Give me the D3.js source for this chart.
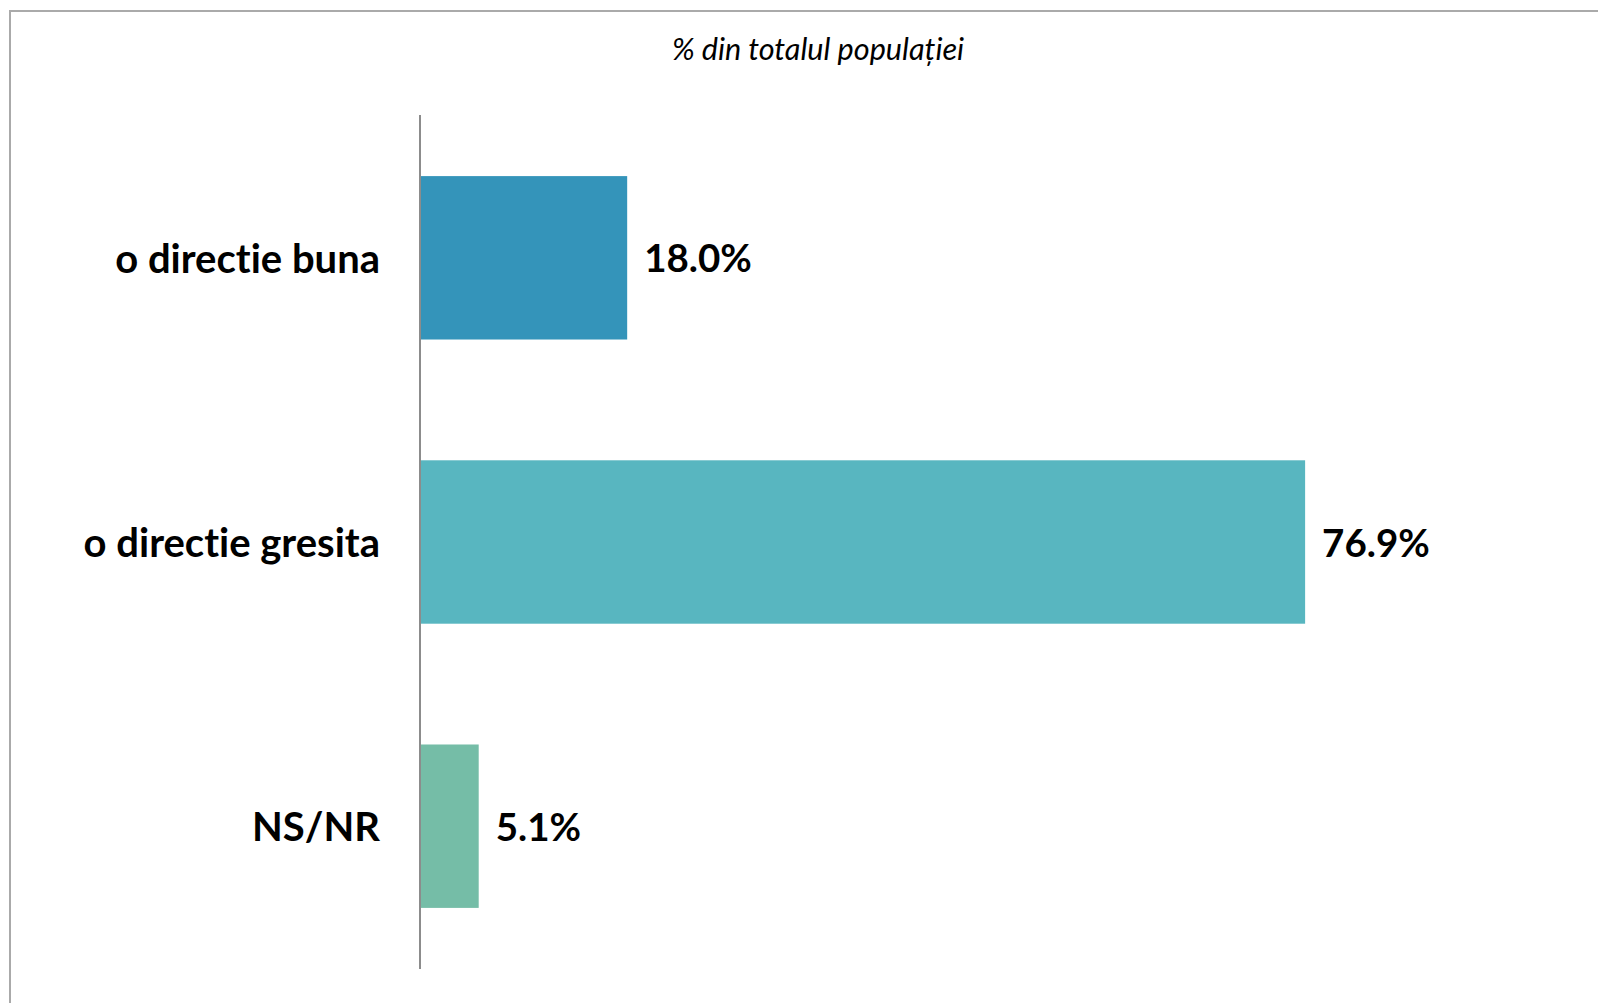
<!DOCTYPE html>
<html>
<head>
<meta charset="utf-8">
<script src="https://cdn.jsdelivr.net/npm/d3@7"></script>
<style>
  html, body { margin: 0; padding: 0; background: #fff; overflow: hidden; }
  svg { display: block; }
  text { font-variant-ligatures: none; font-feature-settings: "liga" 0, "clig" 0; }
</style>
</head>
<body>
<svg id="chart" width="1598" height="1003"></svg>
<script>
const categories = ["o directie buna", "o directie gresita", "NS/NR"];
const values = [18.0, 76.9, 5.1];
const valueLabels = ["18.0%", "76.9%", "5.1%"];
const colors = ["#3494BA", "#58B6C0", "#75BDA7"];
const title = "% din totalul populației";

const svg = d3.select("#chart");
const W = 1598, H = 1003;

// outer frame (only top and left edges visible)
svg.append("rect")
  .attr("x", 10).attr("y", 11)
  .attr("width", W + 20).attr("height", H + 20)
  .attr("fill", "#fff")
  .attr("stroke", "#aaaaaa").attr("stroke-width", 2);

const plot = { left: 420, top: 115, bottom: 969 };

const x = d3.scaleLinear().domain([0, 100]).range([plot.left, plot.left + 1151]);
const y = d3.scaleBand().domain(categories).range([plot.top, plot.bottom]).paddingInner(0.425).paddingOuter(0.215);

const font = "Lato, 'Open Sans', sans-serif";

svg.append("text")
  .attr("x", 818).attr("y", 60)
  .attr("text-anchor", "middle")
  .attr("font-family", font)
  .attr("font-style", "italic")
  .attr("font-size", 30.6)
  .attr("fill", "#000")
  .text(title);

const data = categories.map((c, i) => ({ c, v: values[i], lab: valueLabels[i], col: colors[i] }));

svg.selectAll("rect.bar").data(data).enter().append("rect")
  .attr("class", "bar")
  .attr("x", x(0))
  .attr("y", d => y(d.c))
  .attr("width", d => x(d.v) - x(0))
  .attr("height", y.bandwidth())
  .attr("fill", d => d.col);

// y axis
const yAxis = d3.axisLeft(y).tickSize(0).tickPadding(40);
const gy = svg.append("g").attr("transform", `translate(${x(0)},0)`).call(yAxis);
gy.select(".domain").attr("stroke", "#8c8c8c").attr("stroke-width", 2)
  .attr("d", `M0,${plot.top}V${plot.bottom}`);
gy.selectAll(".tick text")
  .attr("font-family", font)
  .attr("font-weight", "bold")
  .attr("font-size", 40)
  .attr("fill", "#000")
  .attr("dy", "0.38em");

svg.selectAll("text.val").data(data).enter().append("text")
  .attr("class", "val")
  .attr("x", d => x(d.v) + 17)
  .attr("y", d => y(d.c) + y.bandwidth() / 2)
  .attr("dy", "0.38em")
  .attr("font-family", font)
  .attr("font-weight", "bold")
  .attr("font-size", 38.5)
  .attr("fill", "#000")
  .text(d => d.lab);
</script>
</body>
</html>
